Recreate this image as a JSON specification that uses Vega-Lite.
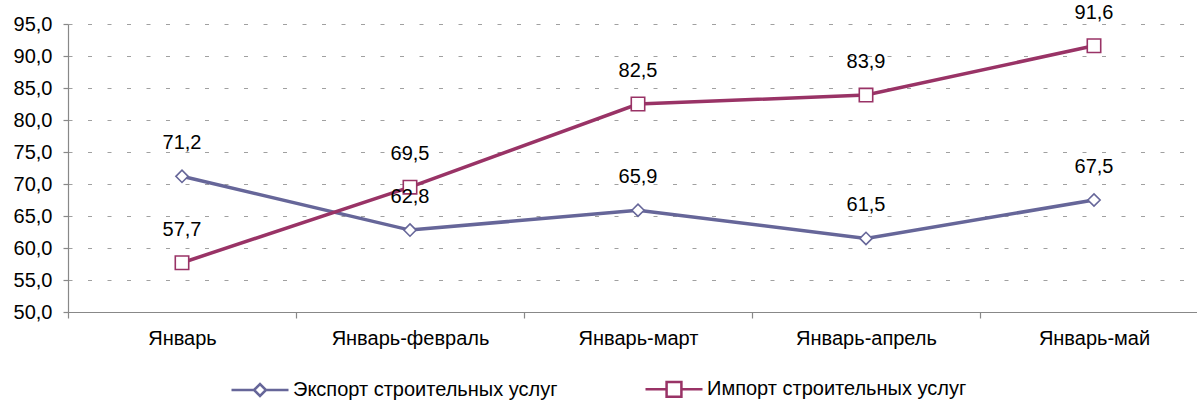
{
  "$schema": "https://vega.github.io/schema/vega-lite/v6.json",
  "width": 1129,
  "height": 288,
  "autosize": "none",
  "padding": {"left": 68, "top": 24, "right": 0, "bottom": 91},
  "data": {
    "values": [
      {"period": "Январь", "series": "Экспорт строительных услуг", "value": 71.2},
      {"period": "Январь-февраль", "series": "Экспорт строительных услуг", "value": 62.8},
      {"period": "Январь-март", "series": "Экспорт строительных услуг", "value": 65.9},
      {"period": "Январь-апрель", "series": "Экспорт строительных услуг", "value": 61.5},
      {"period": "Январь-май", "series": "Экспорт строительных услуг", "value": 67.5},
      {"period": "Январь", "series": "Импорт строительных услуг", "value": 57.7},
      {"period": "Январь-февраль", "series": "Импорт строительных услуг", "value": 69.5},
      {"period": "Январь-март", "series": "Импорт строительных услуг", "value": 82.5},
      {"period": "Январь-апрель", "series": "Импорт строительных услуг", "value": 83.9},
      {"period": "Январь-май", "series": "Импорт строительных услуг", "value": 91.6}
    ]
  },
  "encoding": {
    "x": {
      "field": "period",
      "type": "nominal",
      "sort": null,
      "scale": {"type": "band", "range": [0, 1140], "paddingInner": 0, "paddingOuter": 0},
      "axis": {
        "title": null,
        "labelAngle": 0,
        "grid": false,
        "tickBand": "extent",
        "tickSize": 6,
        "labelPadding": 10,
        "labelFontSize": 20
      }
    },
    "y": {
      "field": "value",
      "type": "quantitative",
      "scale": {"domain": [50, 95], "nice": false, "zero": false},
      "axis": {
        "title": null,
        "values": [50, 55, 60, 65, 70, 75, 80, 85, 90, 95],
        "format": ".1f",
        "grid": true,
        "gridDash": [4, 15.5],
        "gridColor": "#a0a0a0",
        "tickSize": 5,
        "labelPadding": 11,
        "labelFontSize": 20
      }
    }
  },
  "layer": [
    {
      "mark": {"type": "line", "strokeWidth": 3.5},
      "encoding": {
        "color": {
          "field": "series",
          "type": "nominal",
          "scale": {
            "domain": ["Экспорт строительных услуг", "Импорт строительных услуг"],
            "range": ["#666699", "#993366"]
          },
          "legend": {
            "orient": "none",
            "legendX": 162,
            "legendY": 335,
            "direction": "horizontal",
            "columns": 2,
            "title": null,
            "symbolType": "M-1,0L-0.21,0M0.21,0L1,0M-0.21,0L0,-0.21L0.21,0L0,0.21Z",
            "symbolSize": 3249,
            "symbolStrokeWidth": 2.5,
            "labelFontSize": 20,
            "labelOffset": 3,
            "columnPadding": 82,
            "labelLimit": 400,
            "labelColor": "#000",
            "encode": {
              "symbols": {
                "update": {
                  "shape": {"signal": "datum.value == 'Экспорт строительных услуг' ? 'M-1,0L-0.21,0M0.21,0L1,0M-0.21,0L0,-0.21L0.21,0L0,0.21Z' : 'M-1,0L-0.26,0M0.26,0L1,0M-0.26,-0.26L0.26,-0.26L0.26,0.26L-0.26,0.26Z'"},
                  "fill": {"value": "white"},
                  "fillOpacity": {"value": 1}
                }
              }
            }
          }
        }
      }
    },
    {
      "transform": [{"filter": "datum.series == 'Экспорт строительных услуг'"}],
      "mark": {"type": "point", "shape": "diamond", "size": 150, "filled": false, "fill": "white", "fillOpacity": 1, "stroke": "#666699", "strokeWidth": 1.6, "opacity": 1}
    },
    {
      "transform": [{"filter": "datum.series == 'Импорт строительных услуг'"}],
      "mark": {"type": "point", "shape": "square", "size": 180, "filled": false, "fill": "white", "fillOpacity": 1, "stroke": "#993366", "strokeWidth": 1.6, "opacity": 1}
    },
    {
      "mark": {"type": "text", "dy": -33, "fontSize": 20, "color": "#000", "align": "center", "baseline": "middle"},
      "encoding": {
        "text": {"field": "value", "type": "quantitative", "format": ".1f"}
      }
    }
  ],
  "config": {
    "locale": {"number": {"decimal": ",", "thousands": " ", "grouping": [3], "currency": ["", " ₽"]}},
    "view": {"stroke": null},
    "font": "Liberation Sans",
    "axis": {
      "labelFont": "Liberation Sans",
      "labelColor": "#000",
      "domainColor": "#888888",
      "tickColor": "#888888",
      "domainWidth": 1.2,
      "tickWidth": 1.2
    },
    "legend": {"labelFont": "Liberation Sans"}
  }
}
